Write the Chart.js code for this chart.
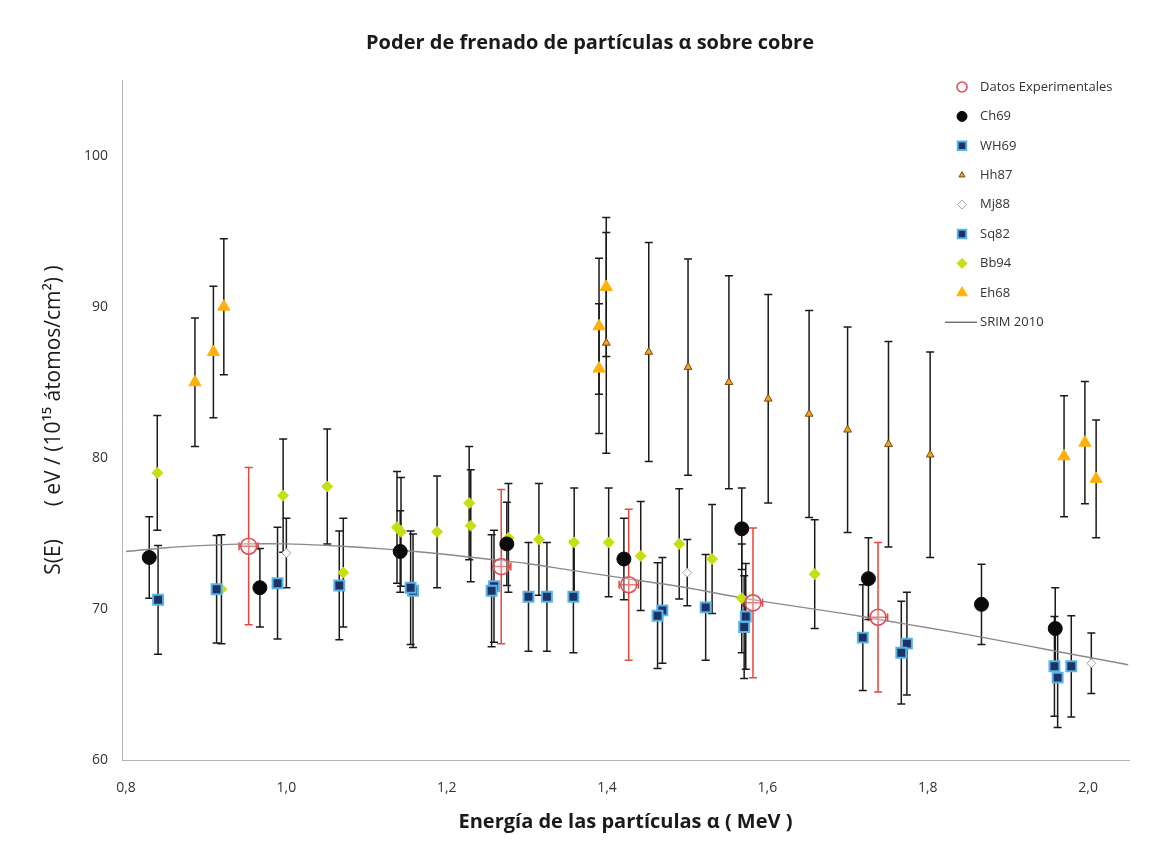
<!DOCTYPE html>
<html>
<head>
<meta charset="utf-8">
<script src="https://cdn.jsdelivr.net/npm/chart.js@4.4.0/dist/chart.umd.min.js"></script>
<style>
    html, body { margin: 0; padding: 0; background: #fff; }
    #wrap { width: 1157px; height: 858px; }
</style>
</head>
<body>
<div id="wrap"><canvas id="chart" width="1157" height="858"></canvas></div>
<script>
"use strict";

// Energy (MeV), stopping power S(E) and its uncertainty
const expE = [0.953, 1.268, 1.427, 1.582, 1.738];
const expS = [74.15, 72.8, 71.6, 70.4, 69.45];
const expErr = [5.2, 5.1, 5.0, 4.95, 4.95];
const expErrE = [0.012, 0.012, 0.012, 0.012, 0.012];

const ch69E = [0.829, 0.967, 1.142, 1.275, 1.421, 1.568, 1.726, 1.867, 1.959];
const ch69S = [73.4, 71.4, 73.8, 74.3, 73.3, 75.3, 72.0, 70.3, 68.7];
const ch69Err = [2.7, 2.6, 2.7, 2.75, 2.7, 2.7, 2.7, 2.65, 2.7];

const wh69E = [0.840, 0.913, 0.989, 1.066, 1.155, 1.256, 1.302, 1.325, 1.358, 1.463, 1.523, 1.571, 1.719, 1.767, 1.958, 1.979];
const wh69S = [70.6, 71.3, 71.7, 71.55, 71.4, 71.2, 70.8, 70.8, 70.8, 69.55, 70.1, 68.8, 68.1, 67.1, 66.2, 66.2];
const wh69Err = [3.6, 3.55, 3.7, 3.6, 3.75, 3.7, 3.6, 3.6, 3.7, 3.5, 3.5, 3.4, 3.5, 3.4, 3.3, 3.35];

const hh87E = [1.399, 1.452, 1.501, 1.552, 1.601, 1.652, 1.700, 1.751, 1.803];
const hh87S = [87.6, 87.0, 86.0, 85.0, 83.9, 82.9, 81.85, 80.9, 80.2];
const hh87Err = [7.3, 7.25, 7.15, 7.05, 6.9, 6.85, 6.8, 6.8, 6.8];

const mj88E = [1.000, 1.500, 2.004];
const mj88S = [73.7, 72.4, 66.4];
const mj88Err = [2.3, 2.2, 2.0];

const sq82E = [1.158, 1.259, 1.469, 1.573, 1.774, 1.962];
const sq82S = [71.2, 71.5, 69.9, 69.5, 67.7, 65.45];
const sq82Err = [3.75, 3.7, 3.5, 3.5, 3.4, 3.3];

const bb94E = [0.839, 0.919, 0.996, 1.051, 1.071, 1.138, 1.143, 1.188, 1.228, 1.230, 1.277, 1.315, 1.359, 1.402, 1.442, 1.490, 1.531, 1.568, 1.659];
const bb94S = [79.0, 71.3, 77.5, 78.1, 72.4, 75.4, 75.1, 75.1, 77.0, 75.5, 74.7, 74.6, 74.4, 74.4, 73.5, 74.3, 73.3, 70.7, 72.3];
const bb94Err = [3.8, 3.6, 3.75, 3.8, 3.6, 3.7, 3.6, 3.7, 3.75, 3.7, 3.6, 3.7, 3.6, 3.6, 3.6, 3.65, 3.6, 3.6, 3.6];

const eh68E = [0.886, 0.909, 0.922, 1.390, 1.390, 1.399, 1.970, 1.996, 2.010];
const eh68S = [85.0, 87.0, 90.0, 88.7, 85.9, 91.3, 80.1, 81.0, 78.6];
const eh68Err = [4.25, 4.35, 4.5, 4.5, 4.3, 4.6, 4.0, 4.05, 3.9];

const srimE = [0.80, 0.85, 0.90, 0.95, 1.00, 1.05, 1.10, 1.15, 1.20, 1.25, 1.30, 1.35, 1.40,
    1.45, 1.50, 1.55, 1.60, 1.65, 1.70, 1.75, 1.80, 1.85, 1.90, 1.95, 2.00, 2.05];
const srimS = [73.8, 74.05, 74.2, 74.3, 74.3, 74.2, 74.05, 73.85, 73.6, 73.3, 73.0, 72.6, 72.2,
    71.8, 71.4, 70.9, 70.45, 70.05, 69.65, 69.2, 68.75, 68.3, 67.8, 67.3, 66.8, 66.3];

const xTicks = [0.8, 1.0, 1.2, 1.4, 1.6, 1.8, 2.0];
const yTicks = [60, 70, 80, 90, 100];

const pts = (e, s) => e.map((x, i) => ({ x, y: s[i] }));

const series = (label, e, s, err, style) => Object.assign({
    label,
    data: pts(e, s),
    err,
    errColor: '#1a1a1a',
    showLine: false
}, style);

const navySquare = {
    pointStyle: 'rect', pointRadius: 7, pointBackgroundColor: '#1d3366',
    pointBorderColor: '#57b2e6', pointBorderWidth: 2, legendRadius: 6
};

const datasets = [
    series('Datos Experimentales', expE, expS, expErr, {
        errE: expErrE, errColor: '#e2483c',
        pointStyle: 'circle', pointRadius: 8, pointBackgroundColor: 'rgba(255,235,235,0.35)',
        pointBorderColor: '#d9505a', pointBorderWidth: 1.6, legendRadius: 5
    }),
    series('Ch69', ch69E, ch69S, ch69Err, {
        pointStyle: 'circle', pointRadius: 7, pointBackgroundColor: '#0a0a0a',
        pointBorderColor: '#0a0a0a', pointBorderWidth: 1, legendRadius: 5
    }),
    series('WH69', wh69E, wh69S, wh69Err, navySquare),
    series('Hh87', hh87E, hh87S, hh87Err, {
        pointStyle: 'triangle', pointRadius: 4.5, pointBackgroundColor: '#f2a51e',
        pointBorderColor: '#7a4a12', pointBorderWidth: 1, legendRadius: 3.5
    }),
    series('Mj88', mj88E, mj88S, mj88Err, {
        pointStyle: 'rectRot', pointRadius: 4.5, pointBackgroundColor: '#ffffff',
        pointBorderColor: '#a0a0a0', pointBorderWidth: 1, legendRadius: 4.5
    }),
    series('Sq82', sq82E, sq82S, sq82Err, navySquare),
    series('Bb94', bb94E, bb94S, bb94Err, {
        pointStyle: 'rectRot', pointRadius: 5.5, pointBackgroundColor: '#c6de12',
        pointBorderColor: '#c6de12', pointBorderWidth: 1, legendRadius: 5
    }),
    series('Eh68', eh68E, eh68S, eh68Err, {
        pointStyle: 'triangle', pointRadius: 7, pointBackgroundColor: '#ffb10a',
        pointBorderColor: '#ffb10a', pointBorderWidth: 1, legendRadius: 6
    }),
    {
        label: 'SRIM 2010',
        data: pts(srimE, srimS),
        showLine: true,
        borderColor: '#8a8a8a',
        borderWidth: 1.4,
        pointRadius: 0,
        tension: 0.3
    }
];

// vertical (and, where given, horizontal) error bars, drawn under the markers
const errorBars = {
    id: 'errorBars',
    beforeDatasetsDraw(chart)
    {
        const { ctx, scales: { x, y } } = chart;
        ctx.save();
        chart.data.datasets.forEach(ds =>
        {
            if (!ds.err) return;
            ctx.strokeStyle = ds.errColor;
            ctx.lineWidth = 1.5;
            ds.data.forEach((p, i) =>
            {
                const px = x.getPixelForValue(p.x);
                const top = y.getPixelForValue(p.y + ds.err[i]);
                const bot = y.getPixelForValue(p.y - ds.err[i]);
                ctx.beginPath();
                ctx.moveTo(px, top); ctx.lineTo(px, bot);
                ctx.moveTo(px - 4, top); ctx.lineTo(px + 4, top);
                ctx.moveTo(px - 4, bot); ctx.lineTo(px + 4, bot);
                if (ds.errE)
                {
                    const py = y.getPixelForValue(p.y);
                    const l = x.getPixelForValue(p.x - ds.errE[i]);
                    const r = x.getPixelForValue(p.x + ds.errE[i]);
                    ctx.moveTo(l, py); ctx.lineTo(r, py);
                    ctx.moveTo(l, py - 4); ctx.lineTo(l, py + 4);
                    ctx.moveTo(r, py - 4); ctx.lineTo(r, py + 4);
                }
                ctx.stroke();
            });
        });
        ctx.restore();
    }
};

// legend in the upper right corner, inside the plot
const insideLegend = {
    id: 'insideLegend',
    afterDraw(chart)
    {
        const ctx = chart.ctx;
        const mx = 962, tx = 980, y0 = 87, dy = 29.4;
        ctx.save();
        ctx.font = '13px "Open Sans"';
        ctx.textBaseline = 'middle';
        chart.data.datasets.forEach((ds, i) =>
        {
            const yy = y0 + i * dy;
            if (ds.showLine)
            {
                ctx.strokeStyle = '#333';
                ctx.lineWidth = 1;
                ctx.beginPath();
                ctx.moveTo(945, yy); ctx.lineTo(977, yy);
                ctx.stroke();
            } else
            {
                ctx.fillStyle = ds.pointBackgroundColor;
                ctx.strokeStyle = ds.pointBorderColor;
                ctx.lineWidth = ds.pointBorderWidth;
                Chart.helpers.drawPoint(ctx, {
                    pointStyle: ds.pointStyle, radius: ds.legendRadius,
                    rotation: 0, borderWidth: ds.pointBorderWidth
                }, mx, yy);
            }
            ctx.fillStyle = '#333';
            ctx.fillText(ds.label, tx, yy);
        });
        ctx.restore();
    }
};

const onTick = list => scale =>
{
    scale.ticks = list.map(v => ({ value: v }));
};

const tickFont = { family: 'Open Sans', size: 14 };

new Chart(document.getElementById('chart'), {
    type: 'scatter',
    data: { datasets },
    options: {
        responsive: false,
        animation: false,
        layout: { padding: { left: 51, right: 28, top: 0, bottom: 0 } },
        plugins: {
            legend: { display: false },
            tooltip: { enabled: false },
            title: {
                display: true,
                text: 'Poder de frenado de partículas α sobre cobre',
                color: '#1a1a1a',
                font: { family: 'Open Sans', size: 20, weight: 'bold' },
                padding: { top: 31, bottom: 25 }
            }
        },
        scales: {
            x: {
                type: 'linear',
                min: 0.795,
                max: 2.051,
                afterBuildTicks: onTick(xTicks),
                afterFit: s => { s.height = 98; },
                grid: { display: false, drawTicks: false },
                border: { display: true, color: '#b4b4b4', width: 1 },
                ticks: {
                    padding: 20,
                    color: '#333',
                    font: tickFont,
                    callback: v => v.toFixed(1).replace('.', ',')
                },
                title: {
                    display: true,
                    text: 'Energía de las partículas α ( MeV )',
                    color: '#1a1a1a',
                    font: { family: 'Open Sans', size: 20, weight: 'bold' },
                    padding: { top: 0, bottom: 24 }
                }
            },
            y: {
                type: 'linear',
                min: 60,
                max: 105,
                afterBuildTicks: onTick(yTicks),
                afterFit: s => { s.width = 71; },
                grid: { display: false, drawTicks: false },
                border: { display: true, color: '#b4b4b4', width: 1 },
                ticks: { padding: 14, color: '#333', font: tickFont },
                title: {
                    display: true,
                    text: 'S(E)      ( eV / (10¹⁵ átomos/cm²) )',
                    color: '#1a1a1a',
                    font: { family: 'Open Sans', size: 21 },
                    padding: { top: -10, bottom: 0 }
                }
            }
        }
    },
    plugins: [errorBars, insideLegend]
});
</script>
</body>
</html>
